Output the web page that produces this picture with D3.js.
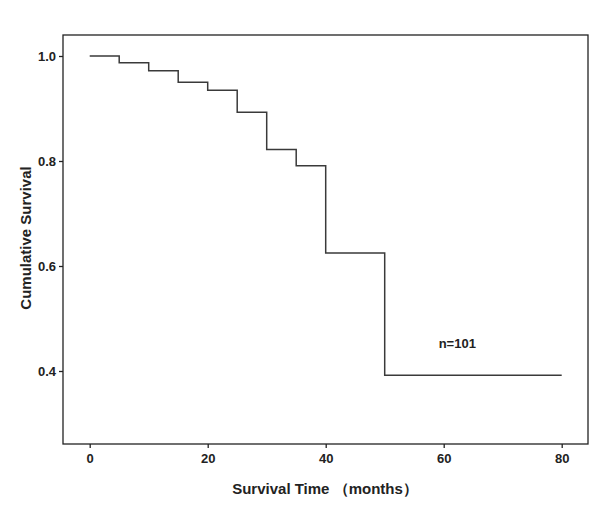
<!DOCTYPE html>
<html>
<head>
<meta charset="utf-8">
<script src="https://cdn.jsdelivr.net/npm/d3@7"></script>
<style>
	body { margin: 0; background: #fff; }
	.axis text { font-family: "Liberation Sans Narrow", "Liberation Sans", Arial, sans-serif; font-weight: bold; font-size: 13px; fill: #222; }
	.axisTitle { font-family: "Liberation Sans", Arial, sans-serif; font-weight: bold; font-size: 15px; fill: #222; }
</style>
</head>
<body>
<div id="survival"></div>
<script>
// kaplan-meier style step curve

// step times (months) and survival level after each step
const stepTimes = [0, 5, 10, 15, 20, 25, 30, 35, 40, 50];
const survival = [1.0, 0.987, 0.972, 0.950, 0.935, 0.893, 0.822, 0.791, 0.625, 0.392];
const endTime = 80;

const xTicks = [0, 20, 40, 60, 80];
const yTicks = [0.4, 0.6, 0.8, 1.0];

const w = 600, h = 515;
// frame of the plot area
const frame = { left: 63, right: 588, top: 35, bottom: 444 };

// scales: 0 -> 89.7px, 80 -> 561.7px ; 1.0 -> 56px, 0.4 -> 371px
const x = d3.scaleLinear().domain([0, 80]).range([89.7, 561.7]);
const y = d3.scaleLinear().domain([0.4, 1.0]).range([371, 56]);

const svg = d3.select("#survival")
	.append("svg")
	.attr("width", w)
	.attr("height", h);

// build the step points
const pts = stepTimes.map((t, i) => ({ t: t, s: survival[i] }));
pts.push({ t: endTime, s: survival[survival.length - 1] });

const line = d3.line()
	.x(d => x(d.t))
	.y(d => y(d.s))
	.curve(d3.curveStepAfter);

svg.append("path")
	.datum(pts)
	.attr("d", line)
	.attr("fill", "none")
	.attr("stroke", "#3a3a3a")
	.attr("stroke-width", 1.5);

// plot frame
svg.append("rect")
	.attr("x", frame.left)
	.attr("y", frame.top)
	.attr("width", frame.right - frame.left)
	.attr("height", frame.bottom - frame.top)
	.attr("fill", "none")
	.attr("stroke", "#222")
	.attr("stroke-width", 1.3);

// axes
svg.append("g")
	.attr("class", "axis")
	.attr("transform", `translate(0,${frame.bottom})`)
	.call(d3.axisBottom(x).tickValues(xTicks).tickSize(4).tickPadding(6).tickFormat(d3.format("d")))
	.call(g => g.select(".domain").remove())
	.call(g => g.selectAll("line").attr("stroke", "#222").attr("stroke-width", 1.3));

svg.append("g")
	.attr("class", "axis")
	.attr("transform", `translate(${frame.left},0)`)
	.call(d3.axisLeft(y).tickValues(yTicks).tickSize(4).tickPadding(3).tickFormat(d3.format(".1f")))
	.call(g => g.select(".domain").remove())
	.call(g => g.selectAll("line").attr("stroke", "#222").attr("stroke-width", 1.3));

// axis titles
svg.append("text")
	.attr("class", "axisTitle")
	.attr("x", 325)
	.attr("y", 494)
	.style("text-anchor", "middle")
	.text("Survival Time （months）");

svg.append("text")
	.attr("class", "axisTitle")
	.attr("transform", "rotate(-90)")
	.attr("x", -238)
	.attr("y", 31)
	.style("text-anchor", "middle")
	.text("Cumulative Survival");

// sample size note
svg.append("text")
	.attr("class", "axisTitle")
	.attr("x", x(62.3))
	.attr("y", 348)
	.style("text-anchor", "middle")
	.style("font-size", "13px")
	.text("n=101");
</script>
</body>
</html>
